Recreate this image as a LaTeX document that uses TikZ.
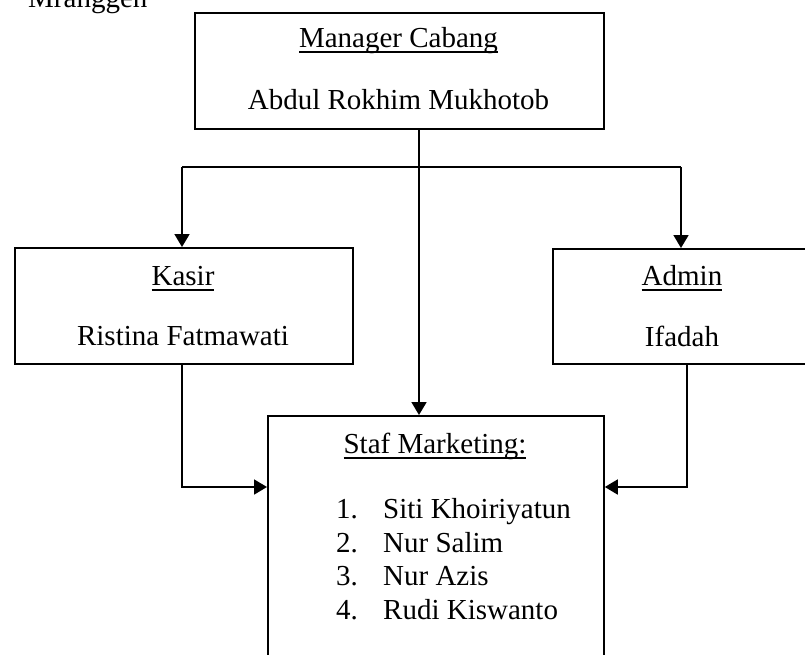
\documentclass[tikz,border=0pt]{standalone}
\usepackage{fontspec}
\setmainfont{Liberation Serif}
\usetikzlibrary{arrows.meta}
\newcommand\myul[1]{\setbox0\hbox{#1}\rlap{\rule[-6pt]{\wd0}{1.6pt}}\box0}
\begin{document}
\begin{tikzpicture}[x=1pt,y=-1pt,
  every node/.style={font=\fontsize{29}{33}\selectfont},
  box/.style={draw,line width=1.8pt,rectangle,inner sep=0pt,anchor=north west},
  txt/.style={anchor=base,inner sep=0pt},
  ltxt/.style={anchor=base west,inner sep=0pt},
  ln/.style={line width=1.8pt},
  arr/.style={line width=1.8pt,-{Triangle[width=15pt,length=13pt]}}]
\useasboundingbox (0,0) rectangle (805,654);
% boxes
\node[box,minimum width=409pt,minimum height=116pt] (mgr) at (194,12) {};
\node[box,minimum width=338pt,minimum height=116pt] (kasir) at (14,247) {};
\node[box,minimum width=260pt,minimum height=115pt] (admin) at (552,248) {};
\node[box,minimum width=336pt,minimum height=280pt] (staf) at (267,415) {};
% texts
\node[ltxt] (kota) at (28,7) {Mranggen};
\node[txt] (t1) at (398.5,47) {\myul{Manager Cabang}};
\node[txt] (t2) at (398.5,109) {Abdul Rokhim Mukhotob};
\node[txt] (t3) at (183,285) {\myul{Kasir}};
\node[txt] (t4) at (183,345) {Ristina Fatmawati};
\node[txt] (t5) at (682,285) {\myul{Admin}};
\node[txt] (t6) at (682,346) {Ifadah};
\node[txt] (t7) at (435,453) {\myul{Staf Marketing:}};
\node[ltxt] (n1) at (336,518) {1.};
\node[ltxt] (n2) at (336,552) {2.};
\node[ltxt] (n3) at (336,585) {3.};
\node[ltxt] (n4) at (336,619) {4.};
\node[ltxt] (m1) at (383,518) {Siti Khoiriyatun};
\node[ltxt] (m2) at (383,552) {Nur Salim};
\node[ltxt] (m3) at (383,585) {Nur Azis};
\node[ltxt] (m4) at (383,619) {Rudi Kiswanto};
% connectors
\coordinate (j) at (419,167);
\coordinate (hl) at (182,167);
\coordinate (hr) at (681,167);
\coordinate (kb) at (182,487);
\coordinate (ab) at (687,487);
\draw[arr] (mgr.south -| j) -- (staf.north -| j);
\draw[ln] (hl) -- (hr);
\draw[arr] (hl) -- (kasir.north -| hl);
\draw[arr] (hr) -- (admin.north -| hr);
\draw[arr] (kasir.south -| kb) |- (staf.west |- kb);
\draw[arr] (admin.south -| ab) |- (staf.east |- ab);
\end{tikzpicture}
\end{document}
